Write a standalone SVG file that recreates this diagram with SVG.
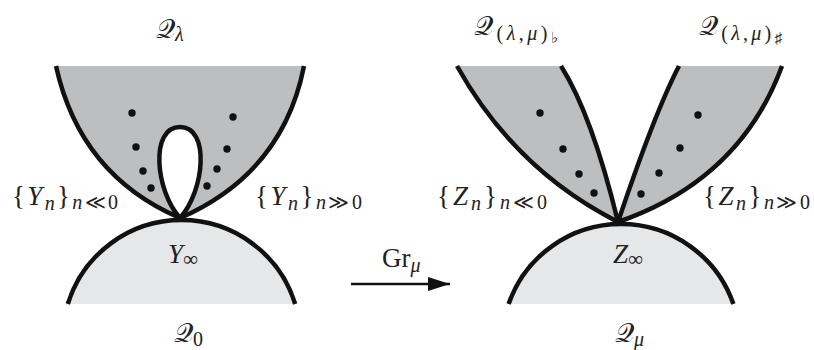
<svg xmlns="http://www.w3.org/2000/svg" width="814" height="350" viewBox="0 0 814 350">
<style>
.dark{fill:#bcbec0;stroke:none}
.light{fill:#e6e7e8;stroke:none}
.ln{fill:none;stroke:#111;stroke-width:4.5;stroke-linejoin:round;stroke-linecap:butt}
.hole{fill:#fff;stroke:#111;stroke-width:4.5}
.dot{fill:#111}
text{font-family:"Liberation Serif","DejaVu Serif",serif;font-size:27px;fill:#222}
.i{font-style:italic}
.s{font-size:20px}
.inf{font-size:21px}
.ss{font-size:15px}
.cal{font-size:27px;font-weight:normal}
</style>
<defs>
<marker id="ah" markerWidth="22" markerHeight="14" refX="22" refY="7" orient="auto" markerUnits="userSpaceOnUse">
<path d="M0,0 L22,7 L0,14 Z" fill="#111"/>
</marker>
</defs>

<g id="left-top-region">
<path class="dark" d="M56,66 Q80,175 180,218 Q283,173 304,66 Z"/>
<path class="ln" d="M56,66 Q80,175 180,218 Q283,173 304,66"/>
<path class="hole" d="M180,218 C155,190 150,127 180,127 C210,127 205,190 180,218 Z"/>
<circle class="dot" cx="132" cy="113" r="3.7"/>
<circle class="dot" cx="136" cy="147" r="3.7"/>
<circle class="dot" cx="143" cy="171" r="3.7"/>
<circle class="dot" cx="151" cy="188" r="3.7"/>
<circle class="dot" cx="233" cy="117" r="3.7"/>
<circle class="dot" cx="227" cy="149" r="3.7"/>
<circle class="dot" cx="217" cy="169" r="3.7"/>
<circle class="dot" cx="207" cy="186" r="3.7"/>
</g>

<g id="left-disk">
<path class="light" d="M67.8,304 A119,119 0 0 1 295.2,304 Z"/>
<path class="ln" d="M67.8,304 A119,119 0 0 1 295.2,304"/>
</g>

<g id="right-left-petal">
<path class="dark" d="M457,66 Q515,170 618,222 Q592,115 561,66 Z"/>
<path class="ln" d="M457,66 Q515,170 618,222 Q592,115 561,66"/>
<circle class="dot" cx="540" cy="113" r="3.7"/>
<circle class="dot" cx="563" cy="149" r="3.7"/>
<circle class="dot" cx="579" cy="174" r="3.7"/>
<circle class="dot" cx="594" cy="193" r="3.7"/>
</g>

<g id="right-right-petal">
<path class="dark" d="M679,66 Q655,112 618,222 Q740,180 782,66 Z"/>
<path class="ln" d="M679,66 Q655,112 618,222 Q740,180 782,66"/>
<circle class="dot" cx="698" cy="115" r="3.7"/>
<circle class="dot" cx="680" cy="148" r="3.7"/>
<circle class="dot" cx="659" cy="173" r="3.7"/>
<circle class="dot" cx="641" cy="194" r="3.7"/>
</g>

<g id="right-disk">
<path class="light" d="M508.6,304 A119,119 0 0 1 733.4,304 Z"/>
<path class="ln" d="M508.6,304 A119,119 0 0 1 733.4,304"/>
</g>

<g id="connectors">
<line x1="351" y1="284" x2="450" y2="284" stroke="#111" stroke-width="2.5" marker-end="url(#ah)"/>
<text x="382" y="267">Gr<tspan class="s i" dy="5">μ</tspan></text>
</g>

<g id="labels">
<text x="156" y="38"><tspan class="cal">𝒬</tspan><tspan class="s i" dy="3">λ</tspan></text>
<text x="474" y="35" textLength="84"><tspan class="cal">𝒬</tspan><tspan class="s" dy="5">(<tspan class="i">λ</tspan>,<tspan class="i">μ</tspan>)</tspan><tspan class="ss" dy="3">♭</tspan></text>
<text x="699" y="35" textLength="83"><tspan class="cal">𝒬</tspan><tspan class="s" dy="5">(<tspan class="i">λ</tspan>,<tspan class="i">μ</tspan>)</tspan><tspan class="ss" dy="3">♯</tspan></text>

<text x="12" y="205" textLength="106">{<tspan class="i">Y</tspan><tspan class="s i" dy="5">n</tspan><tspan dy="-5">}</tspan><tspan class="s" dy="4"><tspan class="i">n</tspan>≪0</tspan></text>
<text x="255" y="205" textLength="107">{<tspan class="i">Y</tspan><tspan class="s i" dy="5">n</tspan><tspan dy="-5">}</tspan><tspan class="s" dy="4"><tspan class="i">n</tspan>≫0</tspan></text>
<text x="437" y="205" textLength="110">{<tspan class="i">Z</tspan><tspan class="s i" dy="5">n</tspan><tspan dy="-5">}</tspan><tspan class="s" dy="4"><tspan class="i">n</tspan>≪0</tspan></text>
<text x="703" y="205" textLength="107">{<tspan class="i">Z</tspan><tspan class="s i" dy="5">n</tspan><tspan dy="-5">}</tspan><tspan class="s" dy="4"><tspan class="i">n</tspan>≫0</tspan></text>

<text x="168" y="263"><tspan class="i">Y</tspan><tspan class="inf" dy="3">∞</tspan></text>
<text x="613" y="263"><tspan class="i">Z</tspan><tspan class="inf" dy="3">∞</tspan></text>
<text x="174" y="342"><tspan class="cal">𝒬</tspan><tspan class="s" dy="4">0</tspan></text>
<text x="615" y="342"><tspan class="cal">𝒬</tspan><tspan class="s i" dy="4">μ</tspan></text>
</g>
</svg>
